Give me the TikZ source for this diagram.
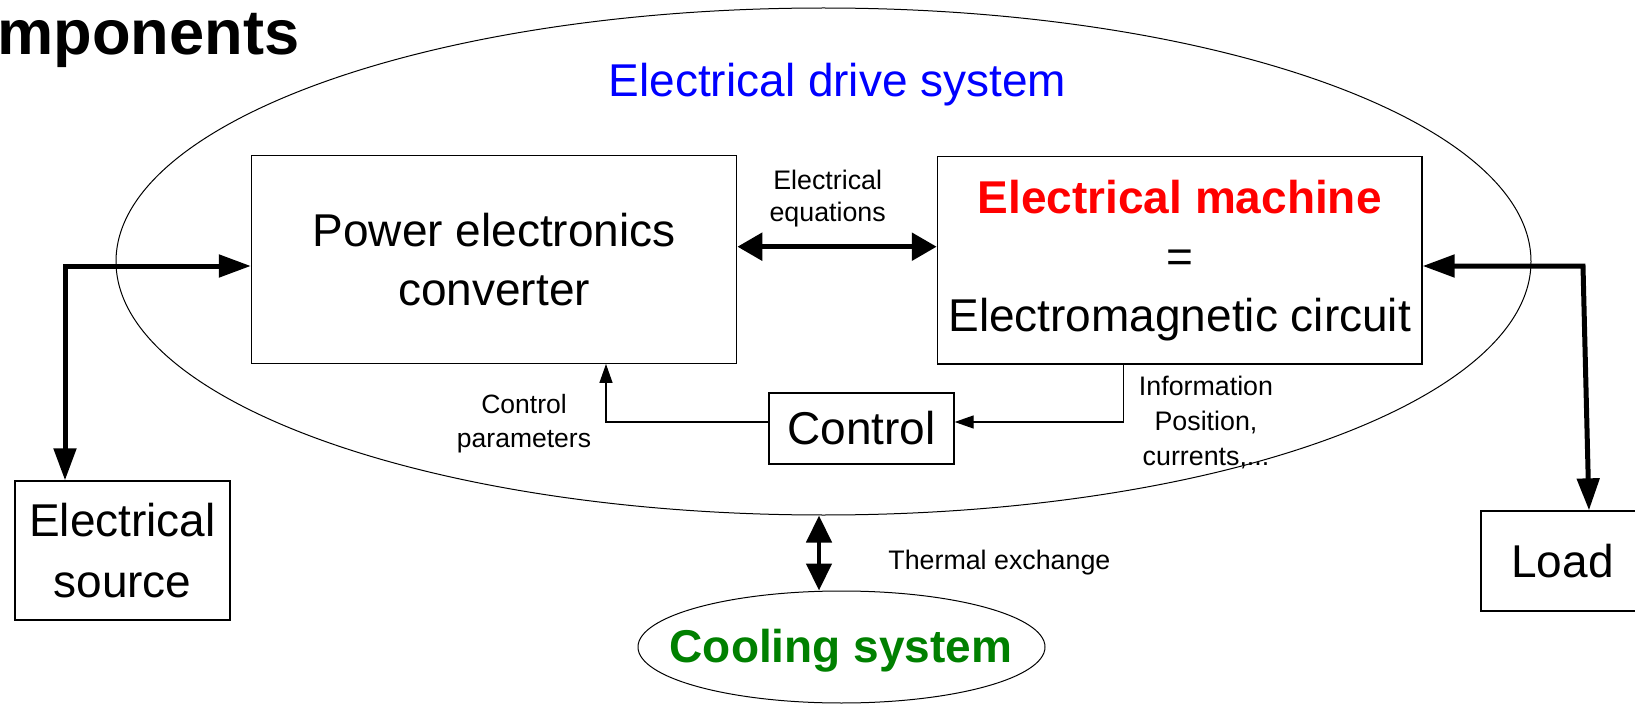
\documentclass[tikz,border=0pt]{standalone}
\usepackage{fontspec}
\setmainfont{Liberation Sans}
\usetikzlibrary{arrows.meta,shapes.geometric}
\definecolor{edsblue}{RGB}{0,0,255}
\definecolor{emred}{RGB}{255,0,0}
\definecolor{coolgreen}{RGB}{0,128,0}
\begin{document}
\begin{tikzpicture}[x=0.5pt,y=-0.5pt,
  box/.style={draw, line width=0.65pt, inner sep=0pt, align=center, font=\fontsize{23}{29.5}\selectfont},
  bigtext/.style={font=\fontsize{23}{29.5}\selectfont},
  smalllabel/.style={inner sep=0pt, align=center},
  oval/.style={draw, ellipse, line width=0.5pt, inner sep=0pt},
  power/.style={line width=2.5pt, {Triangle[length=16pt,width=11pt]}-{Triangle[length=16pt,width=11pt]}},
  exchange/.style={line width=2.8pt, {Triangle[length=12.5pt,width=13.5pt]}-{Triangle[length=12.5pt,width=13.5pt]}},
  thermal/.style={line width=2.2pt, {Triangle[length=13.5pt,width=12.5pt]}-{Triangle[length=13.5pt,width=12.5pt]}},
  infoarrow/.style={line width=0.65pt, -{Triangle[length=9.5pt,width=6.5pt]}}]
\useasboundingbox (0,0) rectangle (1635,706);
\clip (0,0) rectangle (1635,706);

% big ellipse
\node[oval, minimum width=707.5pt, minimum height=253.5pt] (EDS) at (823.5,261.5) {};
\node[anchor=base, inner sep=0pt, text=edsblue, bigtext] (edslabel) at (837.5,97) {Electrical drive system};

% title fragment
\node[anchor=base west, inner sep=0pt, font=\bfseries\fontsize{31.6}{31.6}\selectfont] (title) at (-3,55) {mponents};

% boxes
\node[box, minimum width=242.6pt, minimum height=103.8pt] (PE) at (494.1,259.5) {Power electronics\\converter};
\node[box, minimum width=242.3pt, minimum height=103.65pt] (EM) at (1179.7,260.4) {{\bfseries\color{emred}Electrical machine}\\=\\Electromagnetic circuit};
\node[box, minimum width=92.5pt, minimum height=35.5pt] (Control) at (861.5,428.5) {Control};
\node[box, minimum width=107.5pt, minimum height=69.5pt, font=\fontsize{23}{30.5}\selectfont] (SRC) at (122.5,550.5) {Electrical\\source};
\node[box, minimum width=81.5pt, minimum height=50pt] (Load) at (1562.5,561) {Load};

% cooling
\node[oval, minimum width=203.5pt, minimum height=56pt] (COOL) at (841.5,647) {};
\node[anchor=base, inner sep=0pt, text=coolgreen, font=\bfseries\fontsize{23}{28}\selectfont] (cooltext) at (841,662) {Cooling system};

% connectors
\coordinate (srcCorner) at (65,266);
\draw[power] (PE.west |- srcCorner) -- (srcCorner) -- (srcCorner |- SRC.north);

\coordinate (loadCorner) at (1583,266);
\path (Load.north) ++(26.5,0) coordinate (loadTip);
\draw[power] (EM.east |- loadCorner) -- (loadCorner) -- (loadTip);

\draw[exchange] (PE.east |- 0,246.7) -- (EM.west |- 0,246.7);

\draw[thermal] (EDS.south -| 819,0) -- (COOL.north -| 819,0);

\draw[infoarrow] (EM.south -| 1123.6,0) |- (Control.east |- 0,422);
\draw[infoarrow] (Control.west |- 0,422) -| (PE.south -| 606,0);

% labels
\node[smalllabel, font=\fontsize{13.4}{15.8}\selectfont] (eqlabel) at (827.7,198.5) {Electrical\\equations};
\node[smalllabel, font=\fontsize{13.25}{17}\selectfont] (cplabel) at (524,423.3) {Control\\parameters};
\node[smalllabel, font=\fontsize{13.4}{17.5}\selectfont] (infolabel) at (1206,422.4) {Information\\Position,\\currents,...};
\node[anchor=base west, inner sep=0pt, font=\fontsize{13.4}{16}\selectfont] (thlabel) at (888,569) {Thermal exchange};
\end{tikzpicture}
\end{document}
